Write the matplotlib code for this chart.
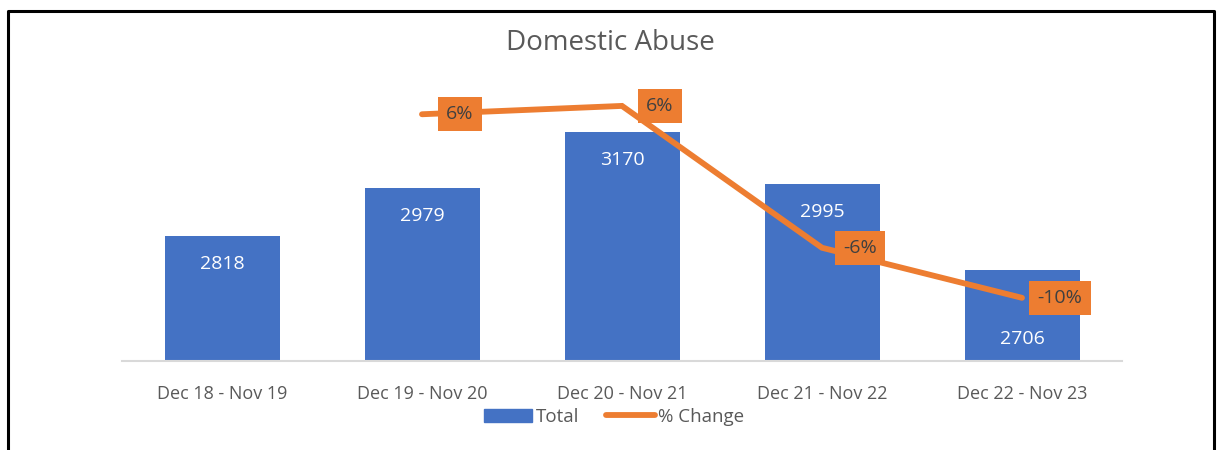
import matplotlib
matplotlib.use("Agg")
import matplotlib.pyplot as plt
from matplotlib.patches import Patch
from matplotlib.lines import Line2D

# data
periods = ["Dec 18 - Nov 19", "Dec 19 - Nov 20", "Dec 20 - Nov 21",
           "Dec 21 - Nov 22", "Dec 22 - Nov 23"]
totals = [2818, 2979, 3170, 2995, 2706]
pct_change = [None, 0.057, 0.064, -0.055, -0.097]
pct_labels = ["", "6%", "6%", "-6%", "-10%"]

blue = "#4472C4"
orange = "#ED7D31"
grey = "#595959"

plt.rcParams['font.family'] = ['Open Sans', 'DejaVu Sans']

fig = plt.figure(figsize=(12.19, 4.5), dpi=100)
ax = fig.add_axes([122 / 1219, 1 - 361 / 450, 1000 / 1219, 298 / 450])
x = list(range(len(periods)))

bars = ax.bar(x, totals, width=0.575, color=blue, zorder=2)
ax.set_ylim(2400, 3400)
ax.set_xlim(-0.5, len(periods) - 0.5)
ax.set_yticks([])
ax.set_xticks(x)
ax.set_xticklabels(periods, color=grey, fontsize=13)
ax.tick_params(axis="x", length=0, pad=17)
for s in ["top", "right", "left"]:
    ax.spines[s].set_visible(False)
ax.spines["bottom"].set_color("#D9D9D9")
ax.spines["bottom"].set_linewidth(1.5)

# bar labels, inside end (last one sits lower in the original)
offsets = [28, 28, 28, 28, 69]
for xi, v, off in zip(x, totals, offsets):
    ax.annotate(str(v), (xi, v), xytext=(0, -off), textcoords="offset pixels",
                ha="center", va="center", color="white", fontsize=14, zorder=4)

# % change on secondary axis
ax2 = ax.twinx()
ax2.set_ylim(-0.15, 0.10)
ax2.set_yticks([])
for s in ax2.spines.values():
    s.set_visible(False)
lx = [xi for xi, p in zip(x, pct_change) if p is not None]
ly = [p for p in pct_change if p is not None]
ax2.plot(lx, ly, color=orange, lw=4.2, solid_capstyle="round",
         solid_joinstyle="miter", zorder=3)
for xi, p, lab in zip(x, pct_change, pct_labels):
    if p is None:
        continue
    ax2.annotate(lab, (xi, p), xytext=(38, 0), textcoords="offset pixels",
                 ha="center", va="center", color="#404040", fontsize=14,
                 bbox=dict(boxstyle="square,pad=0.42", fc=orange, ec="none"),
                 zorder=5)

fig.suptitle("Domestic Abuse", x=610 / 1219, y=1 - 43 / 450, va="center",
             color=grey, fontsize=20)

handles = [Patch(color=blue, label="Total"),
           Line2D([0], [0], color=orange, lw=4.2, solid_capstyle="round", label="% Change")]
fig.legend(handles=handles, loc="center", bbox_to_anchor=(614 / 1219, 1 - 417 / 450),
           ncol=2, frameon=False, fontsize=13.5, labelcolor=grey,
           handlelength=2.6, handleheight=0.7, handletextpad=0.2, columnspacing=1.4)

# outer border (left, top, right)
fig.add_artist(Line2D([8 / 1219, 8 / 1219, 1214 / 1219, 1214 / 1219],
                      [0, 1 - 11 / 450, 1 - 11 / 450, 0],
                      transform=fig.transFigure, color="black", lw=2.2))

fig.savefig("out.png", dpi=100, facecolor="white")
